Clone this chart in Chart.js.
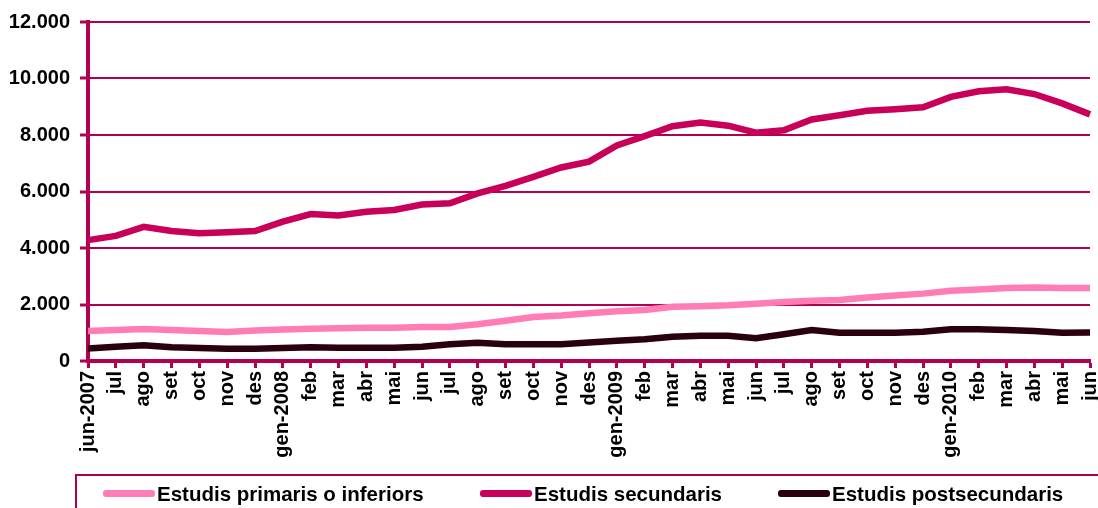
<!DOCTYPE html>
<html>
<head>
<meta charset="utf-8">
<script src="https://cdn.jsdelivr.net/npm/chart.js@4.4.1/dist/chart.umd.min.js"></script>
<style>
  html, body { margin: 0; padding: 0; background: #fff; }
  #wrap { position: relative; width: 1098px; height: 508px; overflow: hidden; }
  #chart { position: absolute; left: 0; top: 0; }
  #legend {
    position: absolute; left: 75px; top: 474px; width: 1060px; height: 50px;
    border: 2px solid #B0004F; box-sizing: border-box;
  }
  .item { position: absolute; top: 6px; font: bold 20.5px "Liberation Sans", Arial, sans-serif; color: #000; white-space: nowrap; }
  .swatch { display: inline-block; width: 52px; height: 7px; border-radius: 3px; vertical-align: middle; margin-right: 2px; position: relative; top: -2px; }
</style>
</head>
<body>
<div id="wrap">
  <canvas id="chart" width="1098" height="508"></canvas>
  <div id="legend"></div>
</div>
<script>
// Mesos: juny 2007 - juny 2010
const months = ['jun-2007', 'jul', 'ago', 'set', 'oct', 'nov', 'des',
    'gen-2008', 'feb', 'mar', 'abr', 'mai', 'jun', 'jul', 'ago', 'set', 'oct', 'nov', 'des',
    'gen-2009', 'feb', 'mar', 'abr', 'mai', 'jun', 'jul', 'ago', 'set', 'oct', 'nov', 'des',
    'gen-2010', 'feb', 'mar', 'abr', 'mai', 'jun'];

const primaris = [1060, 1100, 1130, 1100, 1060, 1030, 1080, 1115, 1145, 1160, 1180, 1180, 1205,
    1205, 1300, 1425, 1555, 1610, 1690, 1760, 1805, 1920, 1940, 1970, 2025, 2085, 2135, 2160,
    2250, 2320, 2385, 2485, 2535, 2580, 2600, 2580, 2580];

const secundaris = [4280, 4430, 4750, 4600, 4520, 4560, 4600, 4930, 5200, 5150, 5285, 5345, 5540,
    5580, 5930, 6200, 6520, 6850, 7060, 7630, 7960, 8310, 8440, 8330, 8080, 8170, 8550, 8700,
    8860, 8910, 8980, 9350, 9550, 9620, 9450, 9120, 8730];

const postsecundaris = [440, 505, 555, 485, 460, 430, 430, 460, 485, 470, 470, 470, 505, 595, 650,
    590, 590, 590, 655, 720, 770, 860, 895, 895, 805, 945, 1095, 1000, 1000, 1000, 1035, 1120,
    1120, 1095, 1060, 1000, 1010];

const seriesNames = ['Estudis primaris o inferiors', 'Estudis secundaris', 'Estudis postsecundaris'];
const seriesColors = ['#FF7DB4', '#C8005A', '#2A0010'];
const yTicks = [0, 2000, 4000, 6000, 8000, 10000, 12000];

const axisColor = '#B0004F';

function formatNum(v) {
    // separador de milers amb punt
    return String(v).replace(/\B(?=(\d{3})+(?!\d))/g, '.');
}

const ctx = document.getElementById('chart').getContext('2d');
new Chart(ctx, {
    type: 'line',
    data: {
        labels: months,
        datasets: [primaris, secundaris, postsecundaris].map((d, i) => ({
            label: seriesNames[i],
            data: d,
            borderColor: seriesColors[i],
            backgroundColor: seriesColors[i],
            borderWidth: 6.5,
            pointRadius: 0,
            tension: 0,
            fill: false,
            order: i === 1 ? 0 : 1
        }))
    },
    options: {
        responsive: false,
        animation: false,
        layout: { padding: { top: 22, right: 8, left: 0, bottom: 0 } },
        plugins: {
            legend: { display: false },
            tooltip: { enabled: false }
        },
        scales: {
            x: {
                offset: false,
                grid: {
                    drawOnChartArea: false,
                    drawTicks: true,
                    tickLength: 7,
                    tickColor: axisColor,
                    tickWidth: 3
                },
                border: { color: axisColor, width: 4 },
                ticks: {
                    autoSkip: false,
                    maxRotation: 90,
                    minRotation: 90,
                    padding: 3,
                    color: '#000',
                    font: { family: 'Liberation Sans, Arial', size: 20, weight: 'bold' }
                },
                afterFit: (scale) => {
                    scale.height = 508 - 361;
                    scale.paddingLeft = 0;
                    scale.paddingRight = 0;
                }
            },
            y: {
                min: 0,
                max: 12000,
                afterBuildTicks: (scale) => {
                    scale.ticks = yTicks.map(v => ({ value: v }));
                },
                grid: {
                    color: axisColor,
                    lineWidth: 2,
                    drawTicks: true,
                    tickLength: 8,
                    tickColor: axisColor,
                    tickWidth: 3
                },
                border: { color: axisColor, width: 4 },
                ticks: {
                    padding: 10,
                    color: '#000',
                    font: { family: 'Liberation Sans, Arial', size: 20, weight: 'bold' },
                    callback: (v) => formatNum(v)
                },
                afterFit: (scale) => {
                    scale.width = 88;
                    scale.paddingTop = 0;
                    scale.paddingBottom = 0;
                }
            }
        }
    }
});

// llegenda
const legend = document.getElementById('legend');
const legendLeft = [26, 403, 701];
seriesNames.forEach((name, i) => {
    const el = document.createElement('div');
    el.className = 'item';
    el.style.left = legendLeft[i] + 'px';
    const sw = document.createElement('span');
    sw.className = 'swatch';
    sw.style.background = seriesColors[i];
    el.appendChild(sw);
    el.appendChild(document.createTextNode(name));
    legend.appendChild(el);
});
</script>
</body>
</html>
